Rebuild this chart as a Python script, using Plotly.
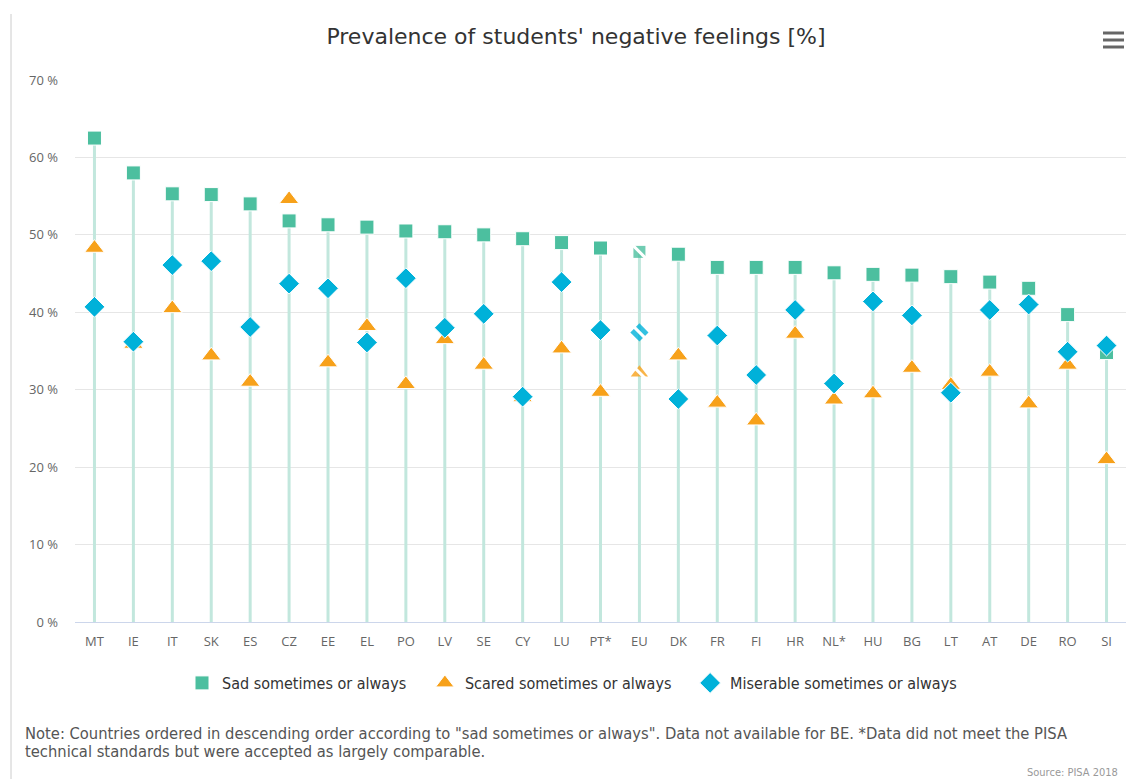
import plotly.graph_objects as go

countries = ["MT", "IE", "IT", "SK", "ES", "CZ", "EE", "EL", "PO", "LV", "SE", "CY", "LU", "PT*",
             "EU", "DK", "FR", "FI", "HR", "NL*", "HU", "BG", "LT", "AT", "DE", "RO", "SI"]
sad = [62.5, 58.0, 55.3, 55.2, 54.0, 51.8, 51.3, 51.0, 50.5, 50.4, 50.0, 49.5, 49.0, 48.3,
       47.8, 47.5, 45.8, 45.8, 45.8, 45.1, 44.9, 44.8, 44.6, 43.9, 43.1, 39.7, 34.8]
scared = [48.3, 35.9, 40.5, 34.4, 31.0, 54.6, 33.5, 38.2, 30.7, 36.5, 33.2, 29.0, 35.3, 29.7,
          32.2, 34.4, 28.3, 26.0, 37.2, 28.7, 29.5, 32.8, 30.6, 32.3, 28.2, 33.2, 21.0]
miserable = [40.7, 36.2, 46.1, 46.6, 38.1, 43.7, 43.1, 36.1, 44.4, 38.0, 39.8, 29.1, 43.9, 37.7,
             37.4, 28.8, 37.0, 31.9, 40.3, 30.8, 41.4, 39.6, 29.6, 40.3, 41.0, 34.9, 35.7]
y_ticks = [0, 10, 20, 30, 40, 50, 60, 70]
highlight = "EU"

W, H = 1128, 779
L, R, T, B = 75, 2, 80, 157
pw, ph = W - L - R, H - T - B


def px(x):
    return (x - L) / pw


def py(y):
    return (H - B - y) / ph


C_SAD = "#4cbf9f"
C_SCARED = "#f7a11a"
C_MIS = "#00b1d9"
C_STEM = "#c2e7dd"
PAD = "\u00a0" * 3

fig = go.Figure()

# stems
sx, sy = [], []
for c, v in zip(countries, sad):
    sx += [c, c, None]
    sy += [0, v, None]
fig.add_trace(go.Scatter(x=sx, y=sy, mode="lines", line=dict(color=C_STEM, width=3),
                         showlegend=False, hoverinfo="skip"))

series = [("Sad sometimes or always" + PAD, sad, C_SAD, "square", 14),
          ("Scared sometimes or always" + PAD, scared, C_SCARED, "triangle-up", 17),
          ("Miserable sometimes or always", miserable, C_MIS, "diamond", 16)]

for name, vals, col, sym, size in series:
    xs = [c for c in countries if c != highlight]
    ys = [v for c, v in zip(countries, vals) if c != highlight]
    fig.add_trace(go.Scatter(x=xs, y=ys, mode="markers", name=name,
                             marker=dict(symbol=sym, color=col, size=size,
                                         line=dict(color="white", width=1))))
    hv = vals[countries.index(highlight)]
    fig.add_trace(go.Scatter(x=[highlight], y=[hv], mode="markers", showlegend=False,
                             marker=dict(symbol=sym, color=col, size=size - 2, opacity=0.8,
                                         line=dict(width=0))))
    fig.add_trace(go.Scatter(x=[highlight], y=[hv], mode="markers", showlegend=False,
                             marker=dict(symbol="line-nw", size=size + 2,
                                         line=dict(color="white", width=3))))

shapes = [
    dict(type="line", xref="paper", yref="paper", x0=px(11), x1=px(11), y0=py(14), y1=py(H),
         line=dict(color="#cccccc", width=1)),
]
for yy in (33, 40, 47):
    shapes.append(dict(type="line", xref="paper", yref="paper", x0=px(1103), x1=px(1124),
                       y0=py(yy), y1=py(yy), line=dict(color="#666666", width=3)))

fig.update_layout(
    width=W, height=H,
    margin=dict(l=L, r=R, t=T, b=B),
    paper_bgcolor="white", plot_bgcolor="white",
    font=dict(family="Open Sans, sans-serif", color="#666666"),
    title=dict(text="Prevalence of students' negative feelings [%]", xref="container",
               x=576 / W, xanchor="center", yref="container",
               y=1 - 36 / H, yanchor="middle",
               font=dict(size=22, color="#333333", family="DejaVu Sans, sans-serif")),
    showlegend=True,
    legend=dict(orientation="h", x=px(572), xanchor="center", y=py(683), yanchor="middle",
                font=dict(size=16, color="#333333", family="DejaVu Sans Condensed, sans-serif"),
                itemsizing="trace", traceorder="normal"),
    xaxis=dict(type="category", categoryorder="array", categoryarray=countries,
               showgrid=False, showline=True, linecolor="#ccd6eb", linewidth=1,
               tickfont=dict(size=13, color="#666666"), ticks="", ticklabelstandoff=7,
               range=[-0.5, len(countries) - 0.5], fixedrange=True),
    yaxis=dict(range=[0, 70], tickmode="array", tickvals=y_ticks,
               ticktext=[f"{v} %" for v in y_ticks],
               showgrid=True, gridcolor="#e6e6e6", gridwidth=1, zeroline=False,
               tickfont=dict(size=13, color="#666666"), ticklabelstandoff=16, fixedrange=True),
    shapes=shapes,
    annotations=[
        dict(text="Note: Countries ordered in descending order according to \"sad sometimes or always\". "
                  "Data not available for BE. *Data did not meet the PISA",
             xref="paper", yref="paper", x=px(23), y=py(733), xanchor="left", yanchor="middle",
             align="left", showarrow=False,
             font=dict(size=16.4, color="#555555", family="DejaVu Sans Condensed, sans-serif")),
        dict(text="technical standards but were accepted as largely comparable.",
             xref="paper", yref="paper", x=px(23), y=py(751), xanchor="left", yanchor="middle",
             align="left", showarrow=False,
             font=dict(size=16.4, color="#555555", family="DejaVu Sans Condensed, sans-serif")),
        dict(text="Source: PISA 2018", xref="paper", yref="paper", x=px(1120), y=py(772),
             xanchor="right", yanchor="middle", showarrow=False,
             font=dict(size=11, color="#999999", family="DejaVu Sans Condensed, sans-serif")),
    ],
)

fig.write_html("out.html", config={"displayModeBar": False},
               post_script="document.body.style.margin='0px';document.body.style.overflow='hidden';")
